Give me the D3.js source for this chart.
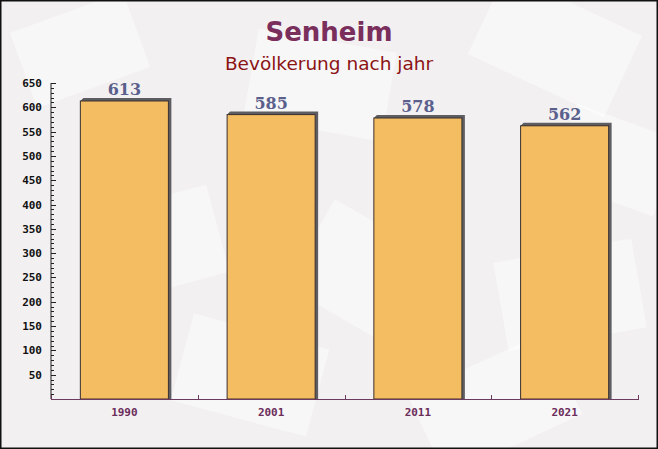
<!DOCTYPE html>
<html><head><meta charset="utf-8">
<script src="https://cdn.jsdelivr.net/npm/d3@7"></script>
<style>html,body{margin:0;padding:0;background:#fff}svg{display:block}</style>
</head><body><svg id="c" width="658" height="449"></svg>
<script>
const years = ["1990", "2001", "2011", "2021"];
const population = [613, 585, 578, 562];
const yTicks = [50, 100, 150, 200, 250, 300, 350, 400, 450, 500, 550, 600, 650];
const title = "Senheim";
const subtitle = "Bevölkerung nach jahr";

const W = 658, H = 449;
const m = {l: 51, r: 20, t: 83, b: 50};
const svg = d3.select("#c");

// background
svg.append("rect").attr("width", W).attr("height", H).attr("fill", "#f3f0f2");
const deco = [[20,10,120,80,-20],[250,40,140,90,10],[480,0,150,90,25],[90,200,130,90,-15],[300,230,150,100,30],[500,250,140,90,-10],[180,330,140,90,15],[420,360,150,90,-25],[560,120,110,80,20]];
deco.forEach(d => svg.append("rect").attr("x", d[0]).attr("y", d[1]).attr("width", d[2]).attr("height", d[3])
  .attr("transform", `rotate(${d[4]},${d[0]+d[2]/2},${d[1]+d[3]/2})`).attr("fill", "#ffffff").attr("opacity", 0.45));
svg.append("rect").attr("x", 0.5).attr("y", 0.5).attr("width", W-1).attr("height", H-1)
  .attr("fill", "none").attr("stroke", "#111").attr("stroke-width", 2);

const x = d3.scaleBand().domain(years).range([m.l, 638]).paddingInner(0.4).paddingOuter(0.2);
const y = d3.scaleLinear().domain([0, 650]).range([399, 83]);

// titles
svg.append("text").attr("x", 329).attr("y", 41).attr("text-anchor", "middle")
  .attr("font-family", "DejaVu Sans").attr("font-weight", "bold").attr("font-size", 26)
  .attr("fill", "#7a2e5c").text(title);
svg.append("text").attr("x", 329).attr("y", 70).attr("text-anchor", "middle")
  .attr("font-family", "DejaVu Sans").attr("font-size", 18.5)
  .attr("fill", "#8b1414").text(subtitle);

// bars
const g = svg.append("g");
const base = y(0);
years.forEach((yr, i) => {
  const x0 = x(yr), x1 = x0 + x.bandwidth(), y0 = y(population[i]);
  g.append("polygon")
    .attr("points", [[x0, y0], [x0+3, y0-3], [x1+3, y0-3], [x1+3, base], [x1, base]].map(p => p.join(",")).join(" "))
    .attr("fill", "#5e5e62");
  g.append("rect").attr("x", x0).attr("y", y0).attr("width", x.bandwidth()).attr("height", base - y0)
    .attr("fill", "#f5bd62").attr("stroke", "#3a3030").attr("stroke-width", 1);
  g.append("text").attr("x", x0 + x.bandwidth()/2).attr("y", y0 - 6).attr("text-anchor", "middle")
    .attr("font-family", "DejaVu Serif").attr("font-weight", "bold").attr("font-size", 16)
    .attr("fill", "#5b5f8c").text(population[i]);
});

// y axis
const ya = svg.append("g");
ya.append("line").attr("x1", m.l).attr("x2", m.l).attr("y1", y(650)).attr("y2", base).attr("stroke", "#222");
d3.range(10, 651, 10).forEach(v => {
  const major = v % 50 === 0;
  ya.append("line").attr("x1", m.l).attr("x2", m.l + (major ? 5 : 3))
    .attr("y1", Math.round(y(v)) + 0.5).attr("y2", Math.round(y(v)) + 0.5).attr("stroke", "#222");
});
yTicks.forEach(v => ya.append("text").attr("x", 42).attr("y", y(v) + 4).attr("text-anchor", "end")
  .attr("font-family", "DejaVu Sans Mono").attr("font-weight", "bold").attr("font-size", 11)
  .attr("fill", "#111").text(v));

// x axis
const xa = svg.append("g");
xa.append("line").attr("x1", m.l).attr("x2", 639).attr("y1", base + 0.5).attr("y2", base + 0.5).attr("stroke", "#6b3a5e");
[0,1,2,3,4].forEach(k => {
  const xx = Math.round(m.l + k * (638 - m.l) / 4) + 0.5;
  xa.append("line").attr("x1", xx).attr("x2", xx).attr("y1", base - 4).attr("y2", base).attr("stroke", "#6b3a5e");
});
years.forEach(yr => xa.append("text").attr("x", x(yr) + x.bandwidth()/2).attr("y", base + 17).attr("text-anchor", "middle")
  .attr("font-family", "DejaVu Sans Mono").attr("font-weight", "bold").attr("font-size", 11)
  .attr("fill", "#6b2d5a").text(yr));
</script></body></html>
